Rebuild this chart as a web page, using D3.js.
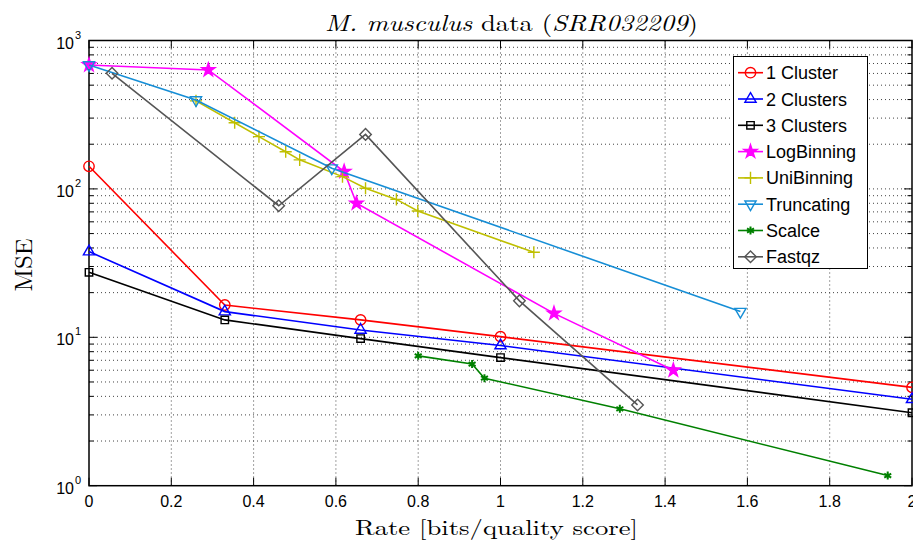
<!DOCTYPE html>
<html>
  <meta charset="utf-8" />
  <script src="https://d3js.org/d3.v7.min.js"></script>
  <style>
    body { margin: 0; background: #fff; }
    svg { display: block; }
  </style>
  <body>
    <svg width="913" height="546" id="chart"></svg>

    <script>
      // series (rate in bits/qs, MSE)
      const cluster1X = [0, 0.33, 0.66, 1.0, 2.0];
      const cluster1Y = [142, 16.5, 13.1, 10.1, 4.6];
      const cluster2X = [0, 0.33, 0.66, 1.0, 2.0];
      const cluster2Y = [37.8, 14.9, 11.2, 8.8, 3.82];
      const cluster3X = [0, 0.33, 0.66, 1.0, 2.0];
      const cluster3Y = [27.4, 13.1, 9.8, 7.3, 3.1];
      const logBinX = [0, 0.29, 0.62, 0.65, 1.13, 1.42];
      const logBinY = [684, 633, 131, 80, 14.5, 6.0];
      const uniBinX = [0.26, 0.354, 0.413, 0.478, 0.512, 0.616, 0.672, 0.747, 0.799, 1.081];
      const uniBinY = [392, 279, 225, 178, 157, 121, 101, 85, 71, 37.4];
      const truncX = [0, 0.26, 0.59, 1.583];
      const truncY = [684, 397, 138, 14.9];
      const scalceX = [0.8, 0.931, 0.961, 1.29, 1.941];
      const scalceY = [7.5, 6.6, 5.3, 3.3, 1.17];
      const fastqzX = [0.056, 0.461, 0.672, 1.046, 1.333];
      const fastqzY = [601, 77, 233, 17.6, 3.5];

      const seriesNames = ["1 Cluster", "2 Clusters", "3 Clusters", "LogBinning", "UniBinning", "Truncating", "Scalce", "Fastqz"];
      const xTicks = [0, 0.2, 0.4, 0.6, 0.8, 1, 1.2, 1.4, 1.6, 1.8, 2];
      const yDecades = [0, 1, 2, 3];

      const series = [
        { name: seriesNames[0], xs: cluster1X, ys: cluster1Y, color: "#ff0000", marker: "circle" },
        { name: seriesNames[1], xs: cluster2X, ys: cluster2Y, color: "#0000ff", marker: "triUp" },
        { name: seriesNames[2], xs: cluster3X, ys: cluster3Y, color: "#000000", marker: "square" },
        { name: seriesNames[3], xs: logBinX, ys: logBinY, color: "#ff00ff", marker: "star" },
        { name: seriesNames[4], xs: uniBinX, ys: uniBinY, color: "#bfbf00", marker: "plus" },
        { name: seriesNames[5], xs: truncX, ys: truncY, color: "#168ed6", marker: "triDown" },
        { name: seriesNames[6], xs: scalceX, ys: scalceY, color: "#008000", marker: "asterisk" },
        { name: seriesNames[7], xs: fastqzX, ys: fastqzY, color: "#555555", marker: "diamond" },
      ];

      const plotL = 89, plotR = 912, plotT = 40.5, plotB = 485.7;

      const x = d3.scaleLinear().domain([0, 2]).range([plotL, plotR]);
      const y = d3.scaleLog().domain([1, 1000]).range([plotB, plotT]);

      const svg = d3.select("#chart");

      // grid
      const grid = svg.append("g")
        .attr("stroke", "#444")
        .attr("stroke-width", 1)
        .attr("stroke-dasharray", "1,3");

      xTicks.slice(1, -1).forEach((t) => {
        grid.append("line")
          .attr("x1", x(t)).attr("x2", x(t))
          .attr("y1", plotT).attr("y2", plotB);
      });

      const minorVals = [];
      yDecades.slice(0, -1).forEach((d) => {
        for (let m = 1; m <= 9; m++) minorVals.push(m * Math.pow(10, d));
      });
      minorVals.slice(1).forEach((v) => {
        grid.append("line")
          .attr("x1", plotL).attr("x2", plotR)
          .attr("y1", y(v)).attr("y2", y(v));
      });

      // ticks (inside, on all four sides)
      const ticks = svg.append("g").attr("stroke", "#000").attr("stroke-width", 1);
      xTicks.forEach((t) => {
        ticks.append("line").attr("x1", x(t)).attr("x2", x(t)).attr("y1", plotB).attr("y2", plotB - 8);
        ticks.append("line").attr("x1", x(t)).attr("x2", x(t)).attr("y1", plotT).attr("y2", plotT + 8);
      });
      minorVals.concat([1000]).forEach((v) => {
        const major = Math.abs(Math.log10(v) - Math.round(Math.log10(v))) < 1e-9;
        const len = major ? 8 : 4.5;
        ticks.append("line").attr("x1", plotL).attr("x2", plotL + len).attr("y1", y(v)).attr("y2", y(v));
        ticks.append("line").attr("x1", plotR).attr("x2", plotR - len).attr("y1", y(v)).attr("y2", y(v));
      });

      // frame
      svg.append("rect")
        .attr("x", plotL).attr("y", plotT)
        .attr("width", plotR - plotL).attr("height", plotB - plotT)
        .attr("fill", "none").attr("stroke", "#000").attr("stroke-width", 1.5);

      // tick labels
      const tickFont = "'Liberation Sans', Arial, sans-serif";
      svg.append("g").selectAll("text")
        .data(xTicks)
        .join("text")
        .attr("x", (d) => x(d))
        .attr("y", 507)
        .attr("text-anchor", "middle")
        .attr("font-family", tickFont)
        .attr("font-size", 16)
        .text((d) => d3.format("~g")(d));

      svg.append("g").selectAll("text")
        .data(yDecades)
        .join("text")
        .attr("x", 74)
        .attr("y", (d) => y(Math.pow(10, d)) + 8)
        .attr("text-anchor", "end")
        .attr("font-family", tickFont)
        .attr("font-size", 16)
        .text("10");
      yDecades.forEach((d) => {
        svg.append("text")
          .attr("x", 75)
          .attr("y", y(Math.pow(10, d)) - 2)
          .attr("font-family", tickFont)
          .attr("font-size", 11)
          .text(d);
      });

      // markers
      const markerPath = (type) => {
        switch (type) {
          case "circle": return d3.symbol(d3.symbolCircle, 85)();
          case "triUp": return d3.symbol(d3.symbolTriangle2, 90)();
          case "triDown": return d3.symbol(d3.symbolTriangle2, 90)();
          case "square": return d3.symbol(d3.symbolSquare2, 70)();
          case "star": return d3.symbol(d3.symbolStar, 55)();
          case "plus": return d3.symbol(d3.symbolPlus, 50)();
          case "asterisk": return d3.symbol(d3.symbolAsterisk, 45)();
          case "diamond": return d3.symbol(d3.symbolDiamond2, 85)();
        }
      };

      function drawMarker(g, s, cx, cy) {
        const filled = s.marker === "star";
        g.append("path")
          .attr("d", markerPath(s.marker))
          .attr("transform", `translate(${cx},${cy})` + (s.marker === "triDown" ? " rotate(180)" : ""))
          .attr("fill", filled ? s.color : "none")
          .attr("stroke", s.color)
          .attr("stroke-width", s.marker === "asterisk" ? 2 : 1.4);
      }

      const line = d3.line().x((d) => x(d[0])).y((d) => y(d[1]));

      const plot = svg.append("g");
      series.forEach((s) => {
        const pts = s.xs.map((v, i) => [v, s.ys[i]]);
        const g = plot.append("g");
        g.append("path")
          .attr("d", line(pts))
          .attr("fill", "none")
          .attr("stroke", s.color)
          .attr("stroke-width", 1.6);
        pts.forEach((p) => drawMarker(g, s, x(p[0]), y(p[1])));
      });

      // legend
      const lg = svg.append("g");
      lg.append("rect")
        .attr("x", 733.5).attr("y", 56.5)
        .attr("width", 134).attr("height", 212)
        .attr("fill", "#fff").attr("stroke", "#000").attr("stroke-width", 1);
      series.forEach((s, i) => {
        const cy = 72.7 + i * 26.3;
        lg.append("line")
          .attr("x1", 738).attr("x2", 763)
          .attr("y1", cy).attr("y2", cy)
          .attr("stroke", s.color).attr("stroke-width", 1.6);
        drawMarker(lg, s, 750.5, cy);
        lg.append("text")
          .attr("x", 766)
          .attr("y", cy + 6.5)
          .attr("font-family", tickFont)
          .attr("font-size", 18)
          .text(s.name);
      });

      // title and axis labels
      const serif = "'Latin Modern Roman', 'Liberation Serif', 'DejaVu Serif', serif";
      const title = svg.append("text")
        .attr("x", 511.5)
        .attr("y", 31)
        .attr("text-anchor", "middle")
        .attr("font-family", serif)
        .attr("font-size", 23)
        .attr("textLength", 373)
        .attr("lengthAdjust", "spacingAndGlyphs");
      title.append("tspan").attr("font-style", "italic").text("M. musculus");
      title.append("tspan").text(" data (");
      title.append("tspan").attr("font-style", "italic").text("SRR032209");
      title.append("tspan").text(")");

      svg.append("text")
        .attr("x", 496.5)
        .attr("y", 535)
        .attr("text-anchor", "middle")
        .attr("font-family", serif)
        .attr("font-size", 21)
        .attr("textLength", 283)
        .attr("lengthAdjust", "spacingAndGlyphs")
        .text("Rate [bits/quality score]");

      svg.append("text")
        .attr("transform", "translate(32,265) rotate(-90)")
        .attr("text-anchor", "middle")
        .attr("font-family", serif)
        .attr("font-size", 24)
        .attr("textLength", 53)
        .attr("lengthAdjust", "spacingAndGlyphs")
        .text("MSE");
    </script>
  </body>
</html>
